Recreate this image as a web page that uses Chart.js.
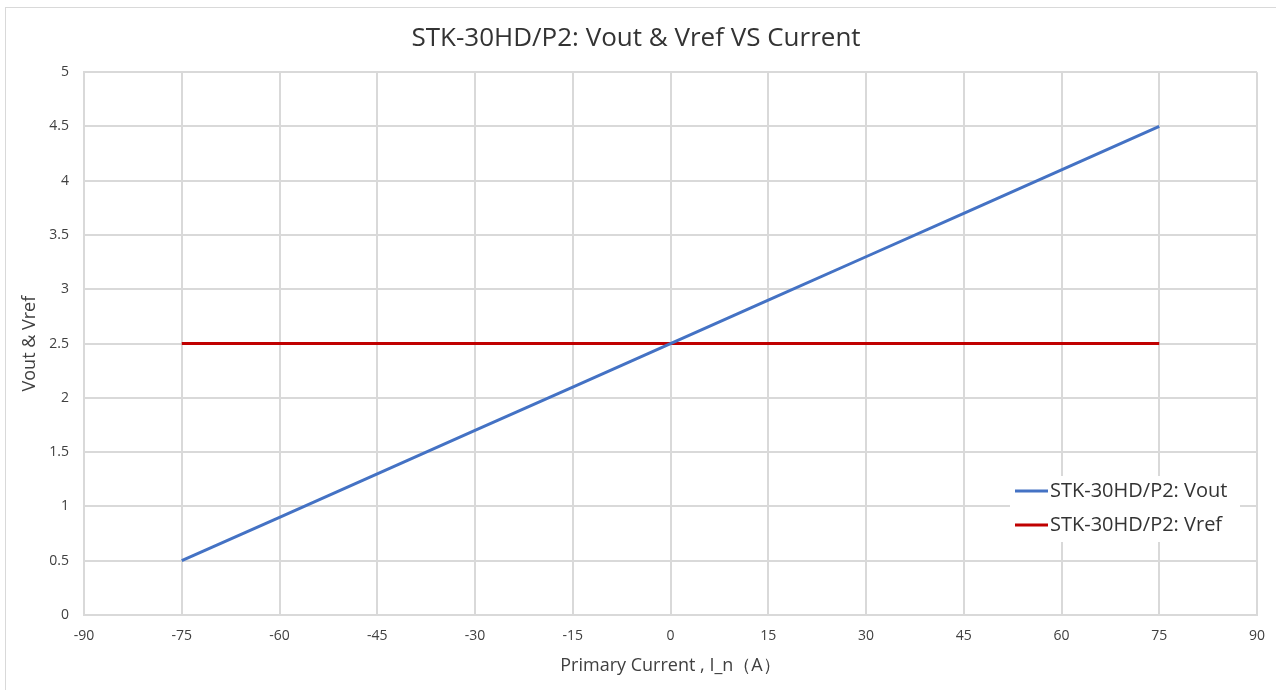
<!DOCTYPE html>
<html>
<head>
<meta charset="utf-8">
<script src="https://cdn.jsdelivr.net/npm/chart.js@4.4.1/dist/chart.umd.min.js"></script>
<style>
  html, body { margin: 0; padding: 0; background: #fff; }
  #wrap { width: 1276px; height: 690px; position: relative; }
</style>
</head>
<body>
<div id="wrap"><canvas id="c" width="1276" height="690"></canvas></div>
<script>
const titleText = 'STK-30HD/P2: Vout & Vref VS Current';
const xTitle = 'Primary Current , I_n（A）';
const yTitle = 'Vout & Vref';
const currents = [-75, -60, -45, -30, -15, 0, 15, 30, 45, 60, 75];
const voutValues = [0.5, 0.9, 1.3, 1.7, 2.1, 2.5, 2.9, 3.3, 3.7, 4.1, 4.5];
const vrefValues = [2.5, 2.5, 2.5, 2.5, 2.5, 2.5, 2.5, 2.5, 2.5, 2.5, 2.5];
const seriesNames = ['STK-30HD/P2: Vout', 'STK-30HD/P2: Vref'];
const seriesColors = ['#4472C4', '#C00000'];

const FONT = "'Open Sans', 'Noto Sans', sans-serif";

const frame = {
  id: 'frame',
  beforeDraw(chart) {
    const ctx = chart.ctx;
    ctx.save();
    ctx.fillStyle = '#fff';
    ctx.fillRect(0, 0, chart.width, chart.height);
    ctx.strokeStyle = '#d9d9d9';
    ctx.lineWidth = 1;
    ctx.strokeRect(5.5, 7.5, 1290, 700);
    ctx.restore();
  }
};

const innerLegend = {
  id: 'innerLegend',
  afterDatasetsDraw(chart) {
    const ctx = chart.ctx;
    ctx.save();
    ctx.fillStyle = '#fff';
    ctx.fillRect(1010, 476, 230, 66);
    ctx.font = "20px " + FONT;
    ctx.textBaseline = 'middle';
    ctx.textAlign = 'left';
    chart.data.datasets.forEach((ds, i) => {
      const y = 491 + i * 34;
      ctx.strokeStyle = ds.borderColor;
      ctx.lineWidth = 3;
      ctx.beginPath();
      ctx.moveTo(1015, y);
      ctx.lineTo(1048, y);
      ctx.stroke();
      ctx.fillStyle = '#333333';
      ctx.fillText(ds.label, 1050, y);
    });
    ctx.restore();
  }
};

const mk = (label, vals, color) => ({
  label,
  data: currents.map((x, i) => ({ x, y: vals[i] })),
  borderColor: color,
  backgroundColor: color,
  borderWidth: 3,
  pointRadius: 0,
  tension: 0,
  fill: false
});

new Chart(document.getElementById('c'), {
  type: 'line',
  data: {
    datasets: [
      mk(seriesNames[0], voutValues, seriesColors[0]),
      mk(seriesNames[1], vrefValues, seriesColors[1])
    ]
  },
  options: {
    responsive: false,
    animation: false,
    layout: { padding: { left: 15, right: 19, top: 0, bottom: 8 } },
    plugins: {
      legend: { display: false },
      tooltip: { enabled: false },
      title: {
        display: true,
        text: titleText,
        color: '#333333',
        font: { family: FONT, size: 26, weight: 'normal' },
        padding: { top: 23, bottom: 18 }
      }
    },
    scales: {
      x: {
        type: 'linear',
        min: -90, max: 90,
        ticks: { stepSize: 15, color: '#404040', font: { family: FONT, size: 14 }, padding: 13, maxRotation: 0 },
        grid: { color: '#d9d9d9', lineWidth: 2, drawTicks: false },
        border: { color: '#d9d9d9', width: 2 },
        title: { display: true, text: xTitle, color: '#404040', font: { family: FONT, size: 18 }, padding: { top: 6, bottom: 5 } },
        afterFit(s) { s.height = 67; s.paddingLeft = 0; s.paddingRight = 0; }
      },
      y: {
        type: 'linear',
        min: 0, max: 5,
        ticks: {
          stepSize: 0.5, color: '#404040', font: { family: FONT, size: 14 }, padding: 15,
          callback: v => String(Math.round(v * 10) / 10)
        },
        grid: { color: '#d9d9d9', lineWidth: 2, drawTicks: false },
        border: { color: '#d9d9d9', width: 2 },
        title: { display: true, text: yTitle, color: '#404040', font: { family: FONT, size: 18 }, padding: { top: 4, bottom: 0 } },
        afterFit(s) { s.width = 69; }
      }
    }
  },
  plugins: [frame, innerLegend]
});
</script>
</body>
</html>
